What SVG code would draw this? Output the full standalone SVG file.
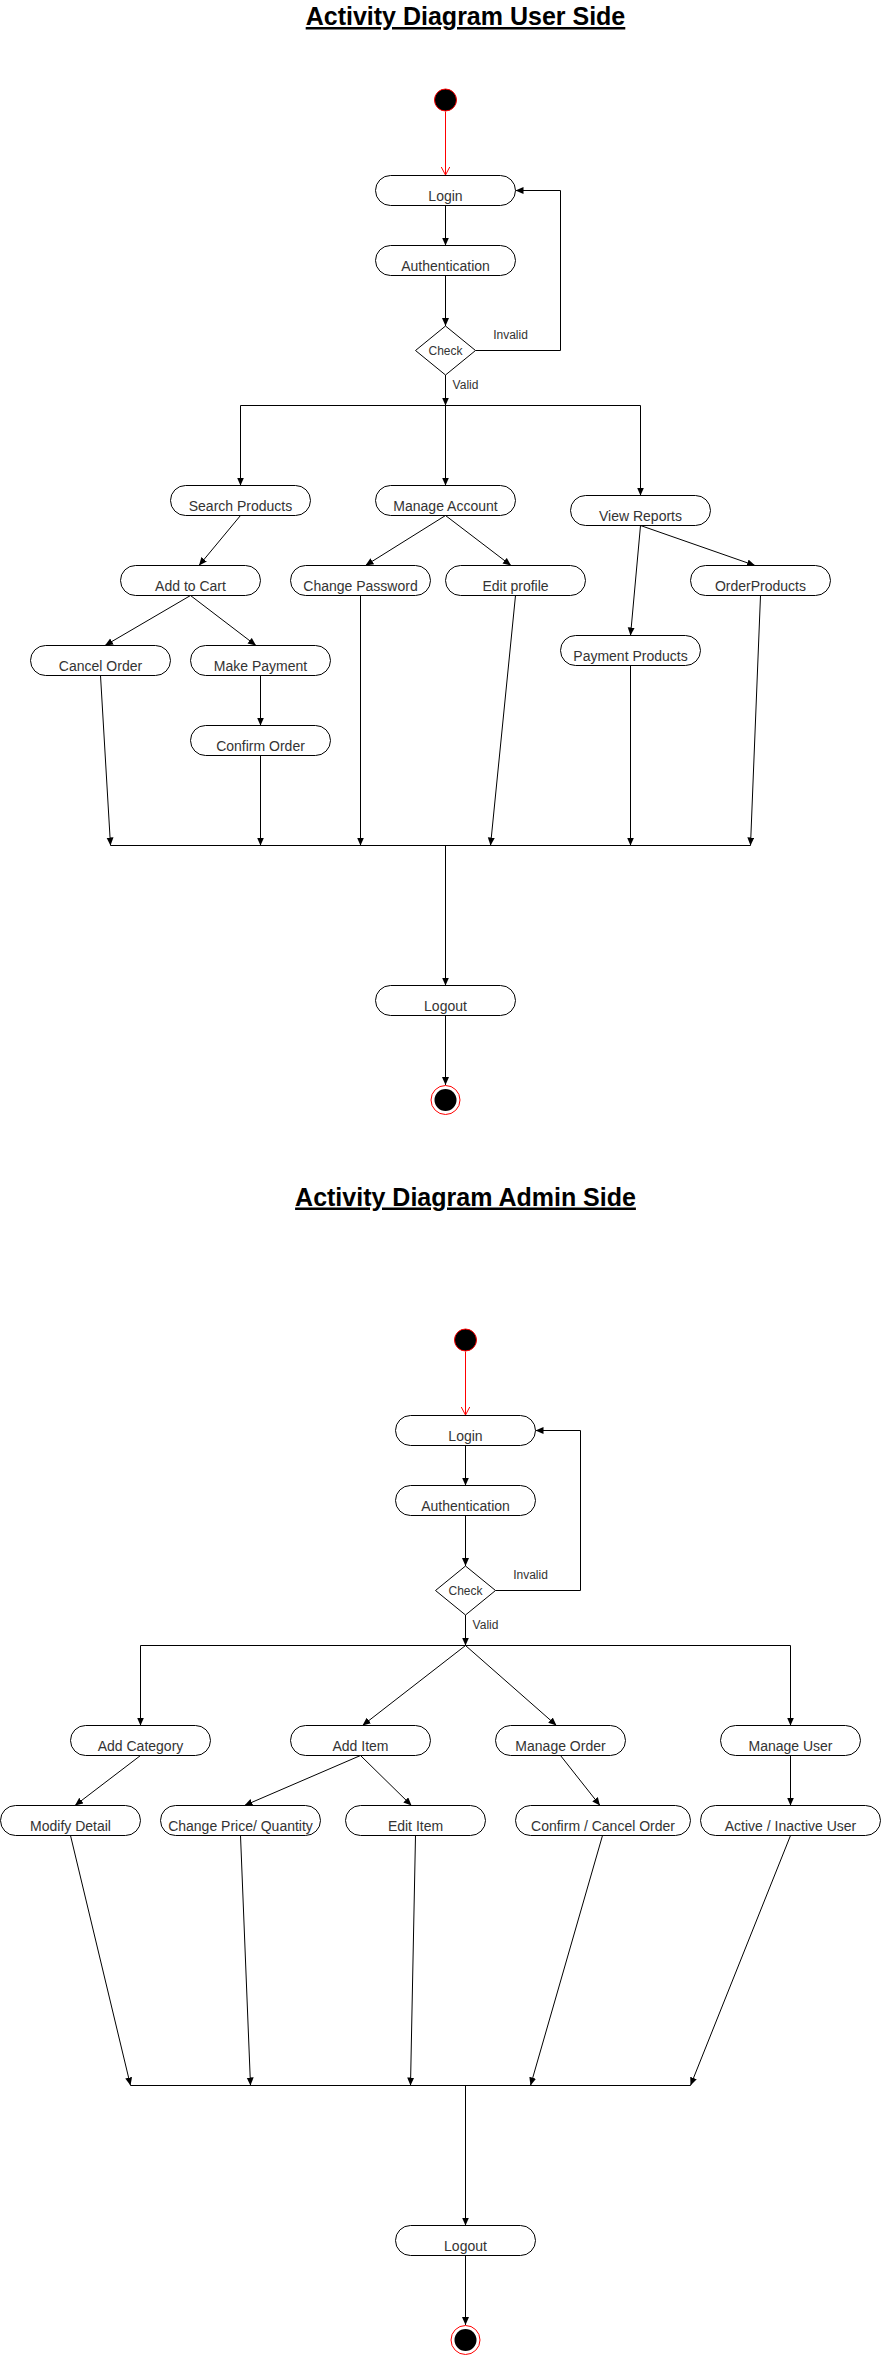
<svg xmlns="http://www.w3.org/2000/svg" width="881" height="2356" viewBox="0 0 881 2356">
<style>
.n{fill:#fff;stroke:#000;stroke-width:1}
.t{font-family:"Liberation Sans",Arial,sans-serif;font-size:14px;fill:#333;text-anchor:middle}
.s{font-family:"Liberation Sans",Arial,sans-serif;font-size:12px;fill:#333;text-anchor:middle}
.h{font-family:"Liberation Sans",Arial,sans-serif;font-size:25px;font-weight:bold;fill:#000;text-anchor:middle;text-decoration:underline}
.c line,.c polyline{stroke:#000;stroke-width:1;fill:none}
.c .a{marker-end:url(#arr)}
.c .r{stroke:#f00;marker-end:url(#open)}
</style>
<defs>
<marker id="arr" markerUnits="userSpaceOnUse" markerWidth="10" markerHeight="10" refX="8" refY="3.5" orient="auto"><path d="M0,0 L8,3.5 L0,7 z" fill="#000"/></marker>
<marker id="open" markerUnits="userSpaceOnUse" markerWidth="12" markerHeight="12" refX="8.5" refY="4.5" orient="auto"><path d="M0,0 L8.5,4.5 L0,9" fill="none" stroke="#f00" stroke-width="1"/></marker>
</defs>
<rect width="881" height="2356" fill="#fff"/>

<text class="h" x="465.5" y="25">Activity Diagram User Side</text>
<text class="h" x="465.5" y="1205.5">Activity Diagram Admin Side</text>

<g class="c" id="connectors">
<!-- user -->
<line class="r" x1="445.5" y1="111.5" x2="445.5" y2="175"/>
<line class="a" x1="445.5" y1="205.5" x2="445.5" y2="245.5"/>
<line class="a" x1="445.5" y1="275.5" x2="445.5" y2="326"/>
<polyline class="a" points="475.5,350.5 560.5,350.5 560.5,190.5 515.5,190.5"/>
<line class="a" x1="445.5" y1="375" x2="445.5" y2="405.5"/>
<line x1="240.5" y1="405.5" x2="640.5" y2="405.5"/>
<line class="a" x1="240.5" y1="405.5" x2="240.5" y2="485.5"/>
<line class="a" x1="445.5" y1="405.5" x2="445.5" y2="485.5"/>
<line class="a" x1="640.5" y1="405.5" x2="640.5" y2="495.5"/>
<line class="a" x1="240.5" y1="515.5" x2="199" y2="565.5"/>
<line class="a" x1="190.5" y1="595.5" x2="105" y2="645.5"/>
<line class="a" x1="190.5" y1="595.5" x2="256" y2="645.5"/>
<line class="a" x1="260.5" y1="675.5" x2="260.5" y2="725.5"/>
<line class="a" x1="445.5" y1="515.5" x2="365.5" y2="565.5"/>
<line class="a" x1="445.5" y1="515.5" x2="511" y2="565.5"/>
<line class="a" x1="640.5" y1="525.5" x2="630.5" y2="635.5"/>
<line class="a" x1="640.5" y1="525.5" x2="755" y2="565.5"/>
<line class="a" x1="100.5" y1="675.5" x2="110.5" y2="845.5"/>
<line class="a" x1="260.5" y1="755.5" x2="260.5" y2="845.5"/>
<line class="a" x1="360.5" y1="595.5" x2="360.5" y2="845.5"/>
<line class="a" x1="515.5" y1="595.5" x2="490.5" y2="845.5"/>
<line class="a" x1="630.5" y1="665.5" x2="630.5" y2="845.5"/>
<line class="a" x1="760.5" y1="595.5" x2="750.5" y2="845.5"/>
<line x1="110.5" y1="845.5" x2="750.5" y2="845.5"/>
<line class="a" x1="445.5" y1="845.5" x2="445.5" y2="985.5"/>
<line class="a" x1="445.5" y1="1015.5" x2="445.5" y2="1085"/>
<!-- admin -->
<line class="r" x1="465.5" y1="1351.5" x2="465.5" y2="1415"/>
<line class="a" x1="465.5" y1="1445.5" x2="465.5" y2="1485.5"/>
<line class="a" x1="465.5" y1="1515.5" x2="465.5" y2="1566"/>
<polyline class="a" points="495.5,1590.5 580.5,1590.5 580.5,1430.5 535.5,1430.5"/>
<line class="a" x1="465.5" y1="1615" x2="465.5" y2="1645.5"/>
<line x1="140.5" y1="1645.5" x2="790.5" y2="1645.5"/>
<line class="a" x1="140.5" y1="1645.5" x2="140.5" y2="1725.5"/>
<line class="a" x1="465.5" y1="1645.5" x2="362.5" y2="1725.5"/>
<line class="a" x1="465.5" y1="1645.5" x2="556.5" y2="1725.5"/>
<line class="a" x1="790.5" y1="1645.5" x2="790.5" y2="1725.5"/>
<line class="a" x1="140.5" y1="1755.5" x2="75" y2="1805.5"/>
<line class="a" x1="360.5" y1="1755.5" x2="244.5" y2="1805.5"/>
<line class="a" x1="360.5" y1="1755.5" x2="411.5" y2="1805.5"/>
<line class="a" x1="560.5" y1="1755.5" x2="600" y2="1805.5"/>
<line class="a" x1="790.5" y1="1755.5" x2="790.5" y2="1805.5"/>
<line class="a" x1="70.5" y1="1835.5" x2="130.5" y2="2085.5"/>
<line class="a" x1="240.5" y1="1835.5" x2="250.5" y2="2085.5"/>
<line class="a" x1="415.5" y1="1835.5" x2="410.5" y2="2085.5"/>
<line class="a" x1="602.5" y1="1835.5" x2="530.5" y2="2085.5"/>
<line class="a" x1="790.5" y1="1835.5" x2="690.5" y2="2085.5"/>
<line x1="130.5" y1="2085.5" x2="690.5" y2="2085.5"/>
<line class="a" x1="465.5" y1="2085.5" x2="465.5" y2="2225.5"/>
<line class="a" x1="465.5" y1="2255.5" x2="465.5" y2="2325"/>
</g>

<g id="labels">
<text class="s" x="510.5" y="338.5">Invalid</text>
<text class="s" x="465.5" y="389">Valid</text>
<text class="s" x="530.5" y="1579">Invalid</text>
<text class="s" x="485.5" y="1628.5">Valid</text>
</g>

<!-- user nodes -->
<g id="u-start"><circle cx="445.5" cy="100" r="11" fill="#000" stroke="#f00" stroke-width="1"/></g>
<g id="u-login"><rect class="n" x="375.5" y="175.5" width="140" height="30" rx="15"/><text class="t" x="445.5" y="200.5">Login</text></g>
<g id="u-auth"><rect class="n" x="375.5" y="245.5" width="140" height="30" rx="15"/><text class="t" x="445.5" y="270.5">Authentication</text></g>
<g id="u-check"><polygon class="n" points="445.5,326 475.5,350.5 445.5,375 415.5,350.5"/><text class="s" x="445.5" y="355">Check</text></g>
<g id="u-search"><rect class="n" x="170.5" y="485.5" width="140" height="30" rx="15"/><text class="t" x="240.5" y="510.5">Search Products</text></g>
<g id="u-manage"><rect class="n" x="375.5" y="485.5" width="140" height="30" rx="15"/><text class="t" x="445.5" y="510.5">Manage Account</text></g>
<g id="u-view"><rect class="n" x="570.5" y="495.5" width="140" height="30" rx="15"/><text class="t" x="640.5" y="520.5">View Reports</text></g>
<g id="u-cart"><rect class="n" x="120.5" y="565.5" width="140" height="30" rx="15"/><text class="t" x="190.5" y="590.5">Add to Cart</text></g>
<g id="u-chpw"><rect class="n" x="290.5" y="565.5" width="140" height="30" rx="15"/><text class="t" x="360.5" y="590.5">Change Password</text></g>
<g id="u-edit"><rect class="n" x="445.5" y="565.5" width="140" height="30" rx="15"/><text class="t" x="515.5" y="590.5">Edit profile</text></g>
<g id="u-orderp"><rect class="n" x="690.5" y="565.5" width="140" height="30" rx="15"/><text class="t" x="760.5" y="590.5">OrderProducts</text></g>
<g id="u-cancel"><rect class="n" x="30.5" y="645.5" width="140" height="30" rx="15"/><text class="t" x="100.5" y="670.5">Cancel Order</text></g>
<g id="u-pay"><rect class="n" x="190.5" y="645.5" width="140" height="30" rx="15"/><text class="t" x="260.5" y="670.5">Make Payment</text></g>
<g id="u-payp"><rect class="n" x="560.5" y="635.5" width="140" height="30" rx="15"/><text class="t" x="630.5" y="660.5">Payment Products</text></g>
<g id="u-confirm"><rect class="n" x="190.5" y="725.5" width="140" height="30" rx="15"/><text class="t" x="260.5" y="750.5">Confirm Order</text></g>
<g id="u-logout"><rect class="n" x="375.5" y="985.5" width="140" height="30" rx="15"/><text class="t" x="445.5" y="1010.5">Logout</text></g>
<g id="u-end"><circle cx="445.5" cy="1100" r="14.5" fill="#fff" stroke="#f00" stroke-width="1"/><circle cx="445.5" cy="1100" r="11" fill="#000"/></g>

<!-- admin nodes -->
<g id="a-start"><circle cx="465.5" cy="1340" r="11" fill="#000" stroke="#f00" stroke-width="1"/></g>
<g id="a-login"><rect class="n" x="395.5" y="1415.5" width="140" height="30" rx="15"/><text class="t" x="465.5" y="1440.5">Login</text></g>
<g id="a-auth"><rect class="n" x="395.5" y="1485.5" width="140" height="30" rx="15"/><text class="t" x="465.5" y="1510.5">Authentication</text></g>
<g id="a-check"><polygon class="n" points="465.5,1566 495.5,1590.5 465.5,1615 435.5,1590.5"/><text class="s" x="465.5" y="1595">Check</text></g>
<g id="a-addcat"><rect class="n" x="70.5" y="1725.5" width="140" height="30" rx="15"/><text class="t" x="140.5" y="1750.5">Add Category</text></g>
<g id="a-additem"><rect class="n" x="290.5" y="1725.5" width="140" height="30" rx="15"/><text class="t" x="360.5" y="1750.5">Add Item</text></g>
<g id="a-morder"><rect class="n" x="495.5" y="1725.5" width="130" height="30" rx="15"/><text class="t" x="560.5" y="1750.5">Manage Order</text></g>
<g id="a-muser"><rect class="n" x="720.5" y="1725.5" width="140" height="30" rx="15"/><text class="t" x="790.5" y="1750.5">Manage User</text></g>
<g id="a-modify"><rect class="n" x="0.5" y="1805.5" width="140" height="30" rx="15"/><text class="t" x="70.5" y="1830.5">Modify Detail</text></g>
<g id="a-price"><rect class="n" x="160.5" y="1805.5" width="160" height="30" rx="15"/><text class="t" x="240.5" y="1830.5">Change Price/ Quantity</text></g>
<g id="a-edititem"><rect class="n" x="345.5" y="1805.5" width="140" height="30" rx="15"/><text class="t" x="415.5" y="1830.5">Edit Item</text></g>
<g id="a-confirm"><rect class="n" x="515.5" y="1805.5" width="175" height="30" rx="15"/><text class="t" x="603" y="1830.5">Confirm / Cancel Order</text></g>
<g id="a-active"><rect class="n" x="700.5" y="1805.5" width="180" height="30" rx="15"/><text class="t" x="790.5" y="1830.5">Active / Inactive User</text></g>
<g id="a-logout"><rect class="n" x="395.5" y="2225.5" width="140" height="30" rx="15"/><text class="t" x="465.5" y="2250.5">Logout</text></g>
<g id="a-end"><circle cx="465.5" cy="2340" r="14.5" fill="#fff" stroke="#f00" stroke-width="1"/><circle cx="465.5" cy="2340" r="11" fill="#000"/></g>
</svg>
